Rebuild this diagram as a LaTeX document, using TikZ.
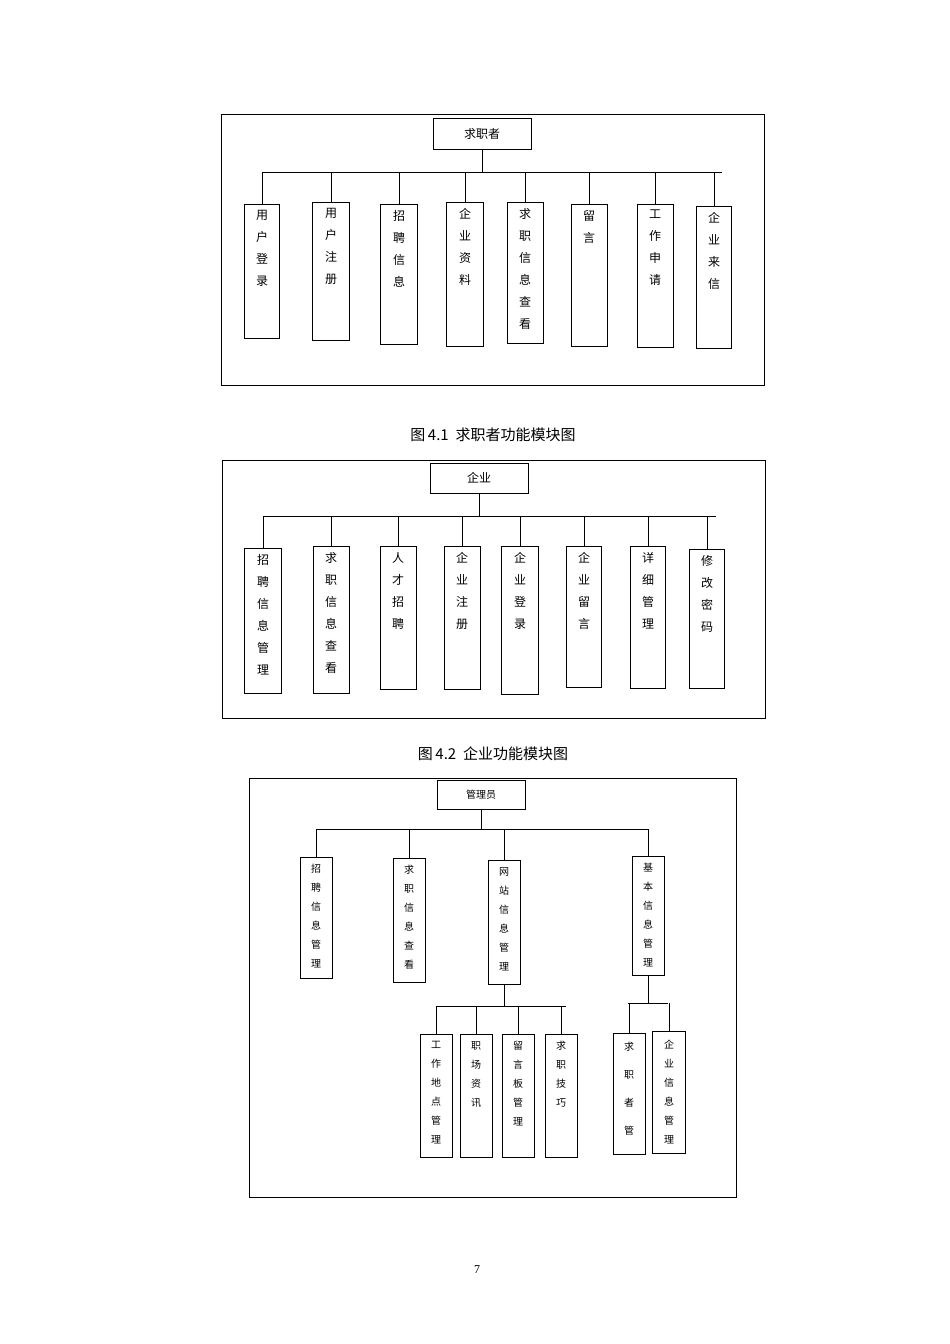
\documentclass[tikz,border=0pt]{standalone}
\usepackage{fontspec}
\newfontfamily\cjk{Noto Sans CJK SC}
\setmainfont{Liberation Serif}
\usetikzlibrary{positioning}

\begin{document}
\begin{tikzpicture}[x=1pt, y=-1pt,
    box/.style={draw, inner sep=0pt},
    txt/.style={font=\cjk\fontsize{12}{22}\selectfont, align=center, inner sep=0pt},
    smalltxt/.style={font=\cjk\fontsize{10}{19}\selectfont, align=center, inner sep=0pt},
    captxt/.style={font=\cjk\fontsize{15}{18}\selectfont}]
  \useasboundingbox (0,0) rectangle (950,1344);

  % job seeker
  \draw (221,114) rectangle (764,385);
  \node[box, txt, minimum width=98, minimum height=31, anchor=north] (seeker) at (482,118) {求职者};
  \coordinate (barL1) at (263,172);
  \coordinate (barR1) at (722,172);
  \draw (seeker.south) -- (seeker.south |- barL1);
  \draw (barL1) -- (barR1);
  \foreach \i/\cx/\w/\ytop/\ybot/\lbl in {1/262/35/204/338/{用\\户\\登\\录}, 2/331/37/202/340/{用\\户\\注\\册},
      3/399/37/204/344/{招\\聘\\信\\息}, 4/465/37/202/346/{企\\业\\资\\料},
      5/525/36/202/343/{求\\职\\信\\息\\查\\看}, 6/589/36/204/346/{留\\言},
      7/655/36/204/347/{工\\作\\申\\请}, 8/714/35/206/348/{企\\业\\来\\信}} {
    \node[box, minimum width=\w, minimum height={\ybot-\ytop}, anchor=north] (s\i) at (\cx,\ytop) {};
    \node[txt, anchor=north] at ([yshift=-6pt]s\i.north) {\lbl};
    \draw (s\i.north) -- (s\i.north |- barL1);
  }
  \node[captxt] (cap1) at (493,435) {图\,4.1\ \ 求职者功能模块图};

  % company
  \draw (222,460) rectangle (765,718);
  \node[box, txt, minimum width=98, minimum height=30, anchor=north] (firm) at (479,463) {企业};
  \coordinate (barL2) at (264,516);
  \coordinate (barR2) at (716,516);
  \draw (firm.south) -- (firm.south |- barL2);
  \draw (barL2) -- (barR2);
  \foreach \i/\cx/\w/\ytop/\ybot/\lbl in {1/263/37/548/693/{招\\聘\\信\\息\\管\\理}, 2/331/36/546/693/{求\\职\\信\\息\\查\\看},
      3/398/36/546/689/{人\\才\\招\\聘}, 4/462/36/546/689/{企\\业\\注\\册},
      5/520/37/546/694/{企\\业\\登\\录}, 6/584/35/546/687/{企\\业\\留\\言},
      7/648/35/546/688/{详\\细\\管\\理}, 8/707/35/549/688/{修\\改\\密\\码}} {
    \node[box, minimum width=\w, minimum height={\ybot-\ytop}, anchor=north] (f\i) at (\cx,\ytop) {};
    \node[txt, anchor=north] at ([yshift=-6pt]f\i.north) {\lbl};
    \draw (f\i.north) -- (f\i.north |- barL2);
  }
  \node[captxt] (cap2) at (493,754) {图\,4.2\ \ 企业功能模块图};

  % admin
  \draw (249,778) rectangle (736,1197);
  \node[box, smalltxt, minimum width=88, minimum height=29, anchor=north] (admin) at (481,780) {管理员};
  \coordinate (barL3) at (316,829);
  \coordinate (barR3) at (649,829);
  \draw (admin.south) -- (admin.south |- barL3);
  \draw (barL3) -- (barR3);
  \foreach \i/\cx/\ytop/\ybot/\lbl in {1/316/857/978/{招\\聘\\信\\息\\管\\理}, 2/409/858/982/{求\\职\\信\\息\\查\\看},
      3/504/860/984/{网\\站\\信\\息\\管\\理}, 4/648/856/975/{基\\本\\信\\息\\管\\理}} {
    \node[box, minimum width=32, minimum height={\ybot-\ytop}, anchor=north] (a\i) at (\cx,\ytop) {};
    \node[smalltxt, anchor=north] at ([yshift=-7pt]a\i.north) {\lbl};
    \draw (a\i.north) -- (a\i.north |- barL3);
  }
  \coordinate (barL4) at (436,1006);
  \coordinate (barR4) at (566,1006);
  \draw (a3.south) -- (a3.south |- barL4);
  \draw (barL4) -- (barR4);
  \foreach \i/\cx/\lbl in {1/436/{工\\作\\地\\点\\管\\理}, 2/476/{职\\场\\资\\讯},
      3/518/{留\\言\\板\\管\\理}, 4/561/{求\\职\\技\\巧}} {
    \node[box, minimum width=32, minimum height=123, anchor=north] (w\i) at (\cx,1034) {};
    \node[smalltxt, anchor=north] at ([yshift=-7pt]w\i.north) {\lbl};
    \draw (w\i.north) -- (w\i.north |- barL4);
  }
  \coordinate (barL5) at (628,1003);
  \coordinate (barR5) at (668,1003);
  \draw (a4.south) -- (a4.south |- barL5);
  \draw (barL5) -- (barR5);
  \node[box, minimum width=32, minimum height=121, anchor=north] (b1) at (629,1033) {};
  \node[smalltxt, anchor=north, font=\cjk\fontsize{10}{28}\selectfont] at ([yshift=-9pt]b1.north) {求\\职\\者\\管};
  \draw (b1.north) -- (b1.north |- barL5);
  \node[box, minimum width=33, minimum height=122, anchor=north] (b2) at (669,1031) {};
  \node[smalltxt, anchor=north] at ([yshift=-9pt]b2.north) {企\\业\\信\\息\\管\\理};
  \draw (b2.north) -- (b2.north |- barL5);

  \node[font=\fontsize{12}{14}\selectfont] (page) at (477,1270) {7};
\end{tikzpicture}
\end{document}
